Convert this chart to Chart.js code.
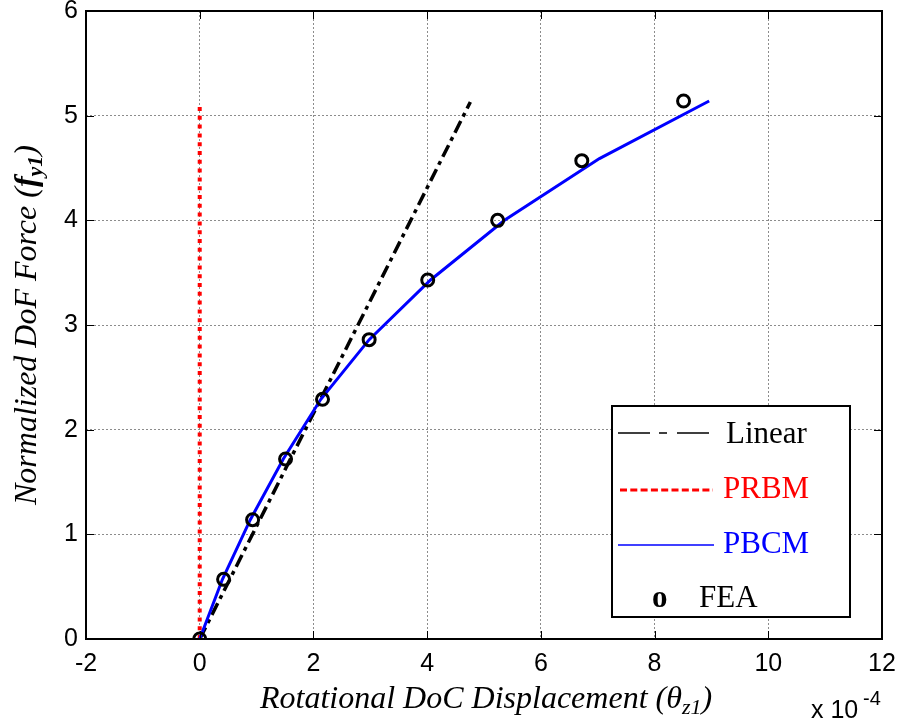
<!DOCTYPE html>
<html>
<head>
<meta charset="utf-8">
<script src="https://cdn.jsdelivr.net/npm/chart.js@4.4.0/dist/chart.umd.min.js"></script>
<style>
  html, body { margin: 0; padding: 0; background: #fff; }
</style>
</head>
<body>
<canvas id="chart" width="901" height="723"></canvas>
<script>
// axis ticks (x in units of 1e-4)
const xTicks = [-2, 0, 2, 4, 6, 8, 10, 12];
const yTicks = [0, 1, 2, 3, 4, 5, 6];

// FEA samples
const feaX = [0, 0.42, 0.93, 1.51, 2.16, 2.98, 4.01, 5.24, 6.72, 8.51];
const feaY = [0, 0.57, 1.14, 1.72, 2.29, 2.86, 3.43, 4.0, 4.57, 5.14];

// PBCM model
const pbcmX = [0, 0.40, 0.89, 1.47, 2.13, 2.98, 4.06, 5.36, 7.03, 8.96];
const pbcmY = [0, 0.57, 1.14, 1.72, 2.29, 2.86, 3.43, 4.0, 4.59, 5.14];

// Linear model
const linearX = [0, 4.76];
const linearY = [0, 5.13];

// PRBM model
const prbmX = [0, 0];
const prbmY = [0, 5.09];

const legendLabels = ['Linear', 'PRBM', 'PBCM', 'FEA'];

const toPoints = (xs, ys) => xs.map((v, i) => ({ x: v, y: ys[i] }));

const sansFont = "'Liberation Sans', Arial, sans-serif";
const serifFont = "'Liberation Serif', 'Times New Roman', serif";

// draws pieces of text one after another (for subscripts etc.)
function drawRuns(ctx, runs, x, y) {
    let cx = x;
    runs.forEach(r => {
        ctx.font = r.font;
        ctx.fillText(r.text, cx, y + (r.dy || 0));
        cx += ctx.measureText(r.text).width;
    });
}
function runsWidth(ctx, runs) {
    let w = 0;
    runs.forEach(r => { ctx.font = r.font; w += ctx.measureText(r.text).width; });
    return w;
}

const decor = {
    id: 'decor',
    afterDraw(chart) {
        const { ctx, chartArea: a, scales: { x, y } } = chart;
        ctx.save();

        // inner ticks
        ctx.strokeStyle = '#000';
        ctx.lineWidth = 1;
        ctx.beginPath();
        xTicks.forEach(v => {
            const px = Math.round(x.getPixelForValue(v)) + 0.5;
            ctx.moveTo(px, a.bottom); ctx.lineTo(px, a.bottom - 8);
            ctx.moveTo(px, a.top); ctx.lineTo(px, a.top + 8);
        });
        yTicks.forEach(v => {
            const py = Math.round(y.getPixelForValue(v)) + 0.5;
            ctx.moveTo(a.left, py); ctx.lineTo(a.left + 8, py);
            ctx.moveTo(a.right, py); ctx.lineTo(a.right - 8, py);
        });
        ctx.stroke();

        // axes box
        ctx.lineWidth = 2;
        ctx.strokeRect(a.left, a.top, a.right - a.left, a.bottom - a.top);

        // legend
        const lx = 612, ly = 406, lw = 238, lh = 211;
        ctx.fillStyle = '#fff';
        ctx.fillRect(lx, ly, lw, lh);
        ctx.lineWidth = 2;
        ctx.strokeStyle = '#000';
        ctx.strokeRect(lx, ly, lw, lh);

        ctx.font = '31px ' + serifFont;
        ctx.textBaseline = 'alphabetic';

        // Linear
        ctx.lineWidth = 1.5;
        ctx.setLineDash([32, 9, 8, 10, 32]);
        ctx.beginPath(); ctx.moveTo(618, 433); ctx.lineTo(709, 433); ctx.stroke();
        ctx.fillStyle = '#000';
        ctx.fillText(legendLabels[0], 726, 443);

        // PRBM
        ctx.strokeStyle = '#ff0000';
        ctx.lineWidth = 3;
        ctx.setLineDash([7, 3.3]);
        ctx.beginPath(); ctx.moveTo(620, 490); ctx.lineTo(713, 490); ctx.stroke();
        ctx.fillStyle = '#ff0000';
        ctx.fillText(legendLabels[1], 723, 498);

        // PBCM
        ctx.strokeStyle = '#0000ff';
        ctx.lineWidth = 1.5;
        ctx.setLineDash([]);
        ctx.beginPath(); ctx.moveTo(618, 545); ctx.lineTo(714, 545); ctx.stroke();
        ctx.fillStyle = '#0000ff';
        ctx.fillText(legendLabels[2], 723, 553);

        // FEA
        ctx.fillStyle = '#000';
        ctx.font = 'bold 31px ' + serifFont;
        ctx.fillText('o', 652, 607);
        ctx.font = '31px ' + serifFont;
        ctx.fillText(legendLabels[3], 699, 607);

        // x title
        const tf = 'italic 32px ' + serifFont;
        const sf = 'italic 22px ' + serifFont;
        const xRuns = [
            { text: 'Rotational DoC Displacement (', font: tf },
            { text: 'θ', font: tf },
            { text: 'z1', font: sf, dy: 6 },
            { text: ')', font: tf }
        ];
        ctx.fillStyle = '#000';
        drawRuns(ctx, xRuns, 260, 708);

        // exponent
        ctx.font = '25px ' + sansFont;
        ctx.fillText('x 10', 811, 718);
        ctx.font = '20px ' + sansFont;
        ctx.fillText('-4', 863, 705);

        // y title
        const yRuns = [
            { text: 'Normalized DoF Force (', font: tf },
            { text: 'f', font: 'bold italic 32px ' + serifFont },
            { text: 'y1', font: 'bold italic 22px ' + serifFont, dy: 6 },
            { text: ')', font: tf }
        ];
        const w = runsWidth(ctx, yRuns);
        ctx.translate(36, 325);
        ctx.rotate(-Math.PI / 2);
        drawRuns(ctx, yRuns, -w / 2, 0);

        ctx.restore();
    }
};

const ctx = document.getElementById('chart').getContext('2d');
new Chart(ctx, {
    type: 'scatter',
    data: {
        datasets: [
            {
                label: 'Linear',
                data: toPoints(linearX, linearY),
                showLine: true,
                borderColor: '#000',
                borderWidth: 3.5,
                borderDash: [13, 5, 4, 5],
                pointRadius: 0,
                order: 3
            },
            {
                label: 'PRBM',
                data: toPoints(prbmX, prbmY),
                showLine: true,
                borderColor: '#ff0000',
                borderWidth: 4,
                borderDash: [4, 4.8],
                pointRadius: 0,
                order: 2
            },
            {
                label: 'PBCM',
                data: toPoints(pbcmX, pbcmY),
                showLine: true,
                borderColor: '#0000ff',
                borderWidth: 3,
                pointRadius: 0,
                tension: 0,
                order: 1
            },
            {
                label: 'FEA',
                data: toPoints(feaX, feaY),
                showLine: false,
                pointRadius: 6,
                pointBorderWidth: 3,
                pointBorderColor: '#000',
                pointBackgroundColor: 'rgba(0,0,0,0)',
                order: 0
            }
        ]
    },
    options: {
        responsive: false,
        animation: false,
        layout: { padding: { left: 0, top: 11, right: 19, bottom: 0 } },
        plugins: { legend: { display: false }, tooltip: { enabled: false } },
        scales: {
            x: {
                type: 'linear',
                min: -2,
                max: 12,
                afterFit: s => { s.height = 84; s.paddingLeft = 0; s.paddingRight = 0; },
                afterBuildTicks: s => { s.ticks = xTicks.map(v => ({ value: v })); },
                ticks: {
                    color: '#000',
                    padding: 10,
                    font: { family: sansFont, size: 25 }
                },
                grid: { color: '#8c8c8c', lineWidth: 1, drawTicks: false },
                border: { display: false, dash: [2, 2] }
            },
            y: {
                min: 0,
                max: 6,
                afterFit: s => { s.width = 86; s.paddingTop = 0; s.paddingBottom = 0; },
                afterBuildTicks: s => { s.ticks = yTicks.map(v => ({ value: v })); },
                ticks: {
                    color: '#000',
                    padding: 8,
                    font: { family: sansFont, size: 25 }
                },
                grid: { color: '#8c8c8c', lineWidth: 1, drawTicks: false },
                border: { display: false, dash: [2, 2] }
            }
        }
    },
    plugins: [decor]
});
</script>
</body>
</html>
